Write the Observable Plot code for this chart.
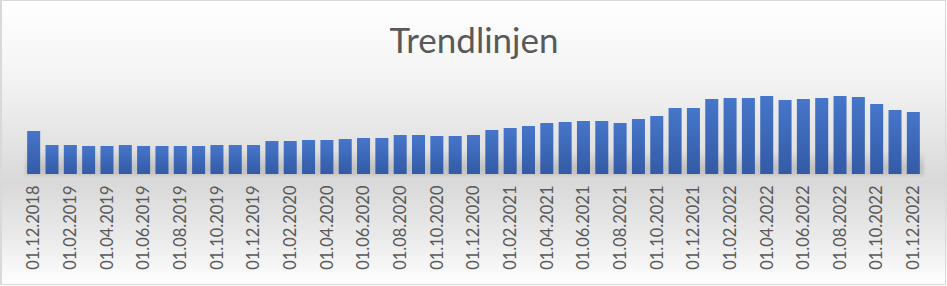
<!DOCTYPE html>
<html>
<head>
<meta charset="utf-8">
<script src="https://cdn.jsdelivr.net/npm/d3@7"></script>
<script src="https://cdn.jsdelivr.net/npm/@observablehq/plot@0.6"></script>
<style>
  html, body { margin: 0; padding: 0; background: #ffffff; }
  #chart {
    position: relative; width: 947px; height: 286px; overflow: hidden;
    background: linear-gradient(to bottom, #ffffff 0%, #f3f3f3 28%, #d9d9d9 64%, #e9e9e9 82%, #ffffff 100%);
  }
  #chart svg { position: absolute; left: 0; top: 0; }
  #border {
    position: absolute; left: 0; top: 0; width: 946px; height: 285px; box-sizing: border-box;
    border: 1px solid #d9d9d9; border-left-width: 2px; pointer-events: none;
  }
</style>
</head>
<body>
<div id="chart"><div id="border"></div></div>
<script>
const title = "Trendlinjen";

const months = [
  "01.12.2018",
  "01.01.2019","01.02.2019","01.03.2019","01.04.2019","01.05.2019","01.06.2019",
  "01.07.2019","01.08.2019","01.09.2019","01.10.2019","01.11.2019","01.12.2019",
  "01.01.2020","01.02.2020","01.03.2020","01.04.2020","01.05.2020","01.06.2020",
  "01.07.2020","01.08.2020","01.09.2020","01.10.2020","01.11.2020","01.12.2020",
  "01.01.2021","01.02.2021","01.03.2021","01.04.2021","01.05.2021","01.06.2021",
  "01.07.2021","01.08.2021","01.09.2021","01.10.2021","01.11.2021","01.12.2021",
  "01.01.2022","01.02.2022","01.03.2022","01.04.2022","01.05.2022","01.06.2022",
  "01.07.2022","01.08.2022","01.09.2022","01.10.2022","01.11.2022","01.12.2022"
];

const values = [
  43,
  29,29,28,28,29,28,28,28,28,29,29,29,
  33,33,34,34,35,36,36,39,39,38,38,39,
  44,46,48,51,52,53,53,51,55,58,66,66,
  75,76,76,78,74,75,76,78,77,70,64,62
];

const tickLabels = [
  "01.12.2018","01.02.2019","01.04.2019","01.06.2019","01.08.2019","01.10.2019","01.12.2019",
  "01.02.2020","01.04.2020","01.06.2020","01.08.2020","01.10.2020","01.12.2020",
  "01.02.2021","01.04.2021","01.06.2021","01.08.2021","01.10.2021","01.12.2021",
  "01.02.2022","01.04.2022","01.06.2022","01.08.2022","01.10.2022","01.12.2022"
];

const data = months.map((m, i) => ({month: m, value: values[i]}));

const plot = Plot.plot({
  width: 947,
  height: 286,
  marginLeft: 18,
  marginRight: 18,
  marginTop: 96,
  marginBottom: 112,
  style: {background: "transparent", fontFamily: "Lato, 'Open Sans', sans-serif", color: "#595959", overflow: "visible"},
  x: {type: "band", domain: months, paddingInner: 0.29, paddingOuter: 0.5, round: false, axis: null, label: null},
  y: {domain: [0, 78], axis: null, label: null},
  marks: [
    Plot.barY(data, {x: "month", y: "value", fill: "url(#barGrad)"}),
    Plot.axisX(tickLabels, {tickRotate: -90, tickSize: 0, tickPadding: 11, fontSize: 16.5, fill: "#595959", fontFamily: "Lato, sans-serif", label: null}),
    Plot.text([title], {text: d => d, frameAnchor: "top", dy: -68, fontSize: 35, fill: "#595959", fontFamily: "Lato, sans-serif"})
  ]
});

const svg = d3.select(plot);
const defs = svg.insert("defs", ":first-child");
const bg = defs.append("linearGradient").attr("id", "barGrad").attr("x1", 0).attr("y1", 0).attr("x2", 0).attr("y2", 1);
bg.append("stop").attr("offset", "0%").attr("stop-color", "#4676ca");
bg.append("stop").attr("offset", "100%").attr("stop-color", "#335aa5");
const sg = defs.append("linearGradient").attr("id", "shadowGrad").attr("x1", 0).attr("y1", 0).attr("x2", 0).attr("y2", 1);
sg.append("stop").attr("offset", "0%").attr("stop-color", "#000").attr("stop-opacity", 0);
sg.append("stop").attr("offset", "70%").attr("stop-color", "#000").attr("stop-opacity", 0.13);
sg.append("stop").attr("offset", "100%").attr("stop-color", "#000").attr("stop-opacity", 0.08);
defs.append("filter").attr("id", "blur").append("feGaussianBlur").attr("stdDeviation", 1.5);

// soft shadow band behind the bars, placed with Plot's own scales
const xs = plot.scale("x"), ys = plot.scale("y");
const x0 = xs.apply(months[0]) - 2;
const x1 = xs.apply(months[months.length - 1]) + xs.bandwidth + 4;
const yb = ys.apply(0);
svg.insert("rect", "g[aria-label='bar']")
  .attr("x", x0).attr("width", x1 - x0)
  .attr("y", yb - 24).attr("height", 26)
  .attr("fill", "url(#shadowGrad)")
  .attr("filter", "url(#blur)");

document.getElementById("chart").insertBefore(plot, document.getElementById("border"));
</script>
</body>
</html>
